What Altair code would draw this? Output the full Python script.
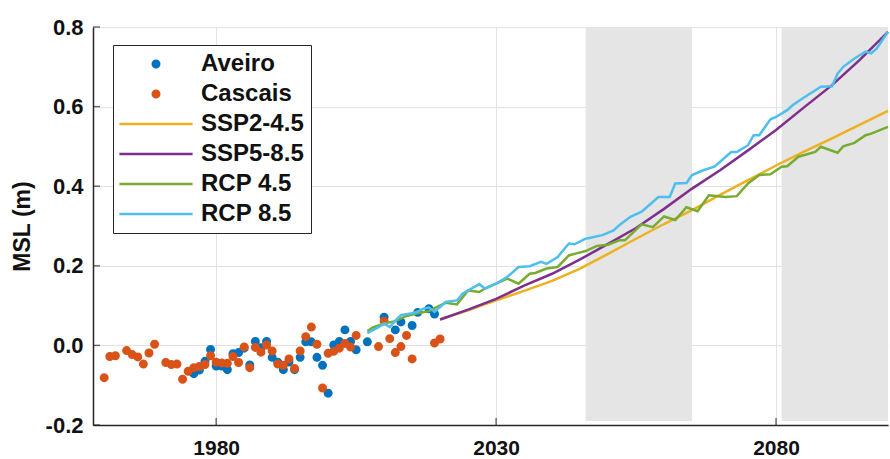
import altair as alt
import pandas as pd

# ---------------- data ----------------
aveiro_years = [1976, 1977, 1978, 1979, 1980, 1981, 1982, 1983, 1984, 1985, 1986, 1987, 1988, 1989,
                1990, 1991, 1992, 1993, 1994, 1995, 1996, 1997, 1998, 1999, 2000, 2001, 2002, 2003,
                2004, 2005, 2007, 2010, 2012, 2013, 2015, 2016, 2018, 2019]
aveiro_msl = [-0.071, -0.062, -0.040, -0.010, -0.052, -0.052, -0.061, -0.021, -0.018, -0.007, -0.049,
              0.010, -0.006, 0.010, -0.030, -0.042, -0.061, -0.042, -0.061, -0.030, 0.009, 0.009,
              -0.030, -0.050, -0.120, 0.001, 0.010, 0.039, 0.010, -0.011, 0.009, 0.071, 0.039, 0.059,
              0.050, 0.083, 0.092, 0.079]

cascais_years = [1960, 1961, 1962, 1964, 1965, 1966, 1967, 1968, 1969, 1971, 1972, 1973, 1974, 1975,
                 1976, 1977, 1978, 1979, 1980, 1981, 1982, 1983, 1984, 1985, 1986, 1987, 1988, 1989,
                 1990, 1991, 1992, 1993, 1994, 1995, 1996, 1997, 1998, 1999, 2000, 2001, 2002, 2003,
                 2004, 2005, 2009, 2010, 2011, 2012, 2013, 2014, 2015, 2019, 2020]
cascais_msl = [-0.081, -0.028, -0.026, -0.013, -0.023, -0.029, -0.047, -0.019, 0.003, -0.043, -0.048,
               -0.047, -0.085, -0.065, -0.056, -0.053, -0.048, -0.026, -0.042, -0.044, -0.045, -0.028,
               -0.043, -0.004, -0.056, -0.005, -0.017, 0.001, -0.014, -0.047, -0.050, -0.034, -0.058,
               -0.014, 0.022, 0.046, 0.003, -0.107, -0.020, -0.015, -0.007, 0.005, -0.004, 0.025,
               -0.003, 0.061, 0.017, -0.018, -0.003, 0.025, -0.034, 0.006, 0.016]

ssp_years = [2020, 2025, 2030, 2035, 2040, 2045, 2050, 2055, 2060, 2065, 2070, 2075, 2080, 2085,
             2090, 2095, 2100]
ssp245 = [0.065, 0.088, 0.113, 0.137, 0.162, 0.193, 0.230, 0.268, 0.305, 0.340, 0.378, 0.415, 0.452,
          0.487, 0.520, 0.555, 0.589]
ssp585 = [0.065, 0.090, 0.117, 0.150, 0.180, 0.216, 0.255, 0.295, 0.343, 0.394, 0.440, 0.490, 0.541,
          0.598, 0.654, 0.718, 0.788]

rcp45_years = [2007, 2008, 2010, 2012, 2014, 2016, 2018, 2019, 2021, 2023, 2025, 2027, 2028, 2032,
               2034, 2036, 2037, 2039, 2041, 2043, 2044, 2046, 2048, 2050, 2052, 2053, 2056, 2058,
               2060, 2062, 2064, 2066, 2068, 2071, 2073, 2075, 2077, 2079, 2081, 2082, 2084, 2087,
               2088, 2091, 2092, 2094, 2096, 2097, 2100]
rcp45 = [0.036, 0.045, 0.055, 0.061, 0.074, 0.081, 0.086, 0.094, 0.107, 0.103, 0.138, 0.134, 0.143,
         0.168, 0.155, 0.180, 0.182, 0.193, 0.197, 0.226, 0.230, 0.237, 0.250, 0.253, 0.264, 0.264,
         0.304, 0.297, 0.324, 0.315, 0.347, 0.337, 0.377, 0.373, 0.375, 0.407, 0.428, 0.430, 0.449,
         0.450, 0.474, 0.486, 0.499, 0.484, 0.500, 0.509, 0.528, 0.532, 0.549]

rcp85_years = [2007, 2009, 2010, 2011, 2012, 2013, 2015, 2016, 2017, 2018, 2019, 2021, 2023, 2024,
               2027, 2028, 2030, 2032, 2034, 2036, 2038, 2039, 2041, 2043, 2044, 2046, 2049, 2051,
               2052, 2054, 2056, 2059, 2061, 2062, 2064, 2065, 2067, 2069, 2072, 2073, 2075, 2076,
               2077, 2079, 2080, 2082, 2083, 2085, 2088, 2090, 2091, 2092, 2094, 2096, 2097, 2098, 2100]
rcp85 = [0.031, 0.046, 0.055, 0.046, 0.062, 0.076, 0.081, 0.085, 0.092, 0.095, 0.084, 0.109, 0.113,
         0.130, 0.154, 0.143, 0.155, 0.172, 0.197, 0.199, 0.210, 0.205, 0.222, 0.256, 0.254, 0.268,
         0.277, 0.289, 0.302, 0.323, 0.336, 0.373, 0.373, 0.407, 0.408, 0.428, 0.440, 0.449, 0.486,
         0.486, 0.503, 0.528, 0.528, 0.568, 0.574, 0.591, 0.604, 0.623, 0.650, 0.651, 0.683, 0.700,
         0.721, 0.738, 0.734, 0.746, 0.788]

shade_start = [2046, 2081]
shade_end = [2065, 2100]

x_ticks = [1980, 2030, 2080]
y_ticks = [-0.2, 0.0, 0.2, 0.4, 0.6, 0.8]
x_domain = [1958, 2100]
y_domain = [-0.2, 0.8]

series_names = ["Aveiro", "Cascais", "SSP2-4.5", "SSP5-8.5", "RCP 4.5", "RCP 8.5"]
series_colors = ["#0072BD", "#D95319", "#EDB120", "#7E2F8E", "#77AC30", "#4DBEEE"]

# ---------------- styling ----------------
FONT = "Liberation Sans"
DARK = "#262626"
LINE_PATH = "M-11.3,0H11.3"
series_shapes = ["circle", "circle", LINE_PATH, LINE_PATH, LINE_PATH, LINE_PATH]

pts = pd.concat([
    pd.DataFrame({"year": aveiro_years, "msl": aveiro_msl, "series": "Aveiro"}),
    pd.DataFrame({"year": cascais_years, "msl": cascais_msl, "series": "Cascais"}),
], ignore_index=True)

shade = pd.DataFrame({"start": shade_start, "end": shade_end})

xscale = alt.Scale(domain=x_domain, nice=False, zero=False)
yscale = alt.Scale(domain=y_domain, nice=False, zero=False)

x_axis = alt.Axis(values=x_ticks, format="d", grid=True, gridColor="#e2e2e2", gridWidth=1,
                  ticks=False, tickSize=0, domainColor=DARK, domainWidth=1.5, labelFont=FONT,
                  labelFontSize=21, labelFontWeight="bold", labelColor="#111111",
                  labelBaseline="alphabetic", labelPadding=29, title=None, labelFlush=False)
y_axis = alt.Axis(values=y_ticks, labelExpr="replace(format(datum.value, '.1f'), '\u2212', '-')",
                  grid=True, gridColor="#e2e2e2", gridWidth=1,
                  ticks=False, tickSize=0, domainColor=DARK, domainWidth=1.5, labelFont=FONT,
                  labelFontSize=22, labelFontWeight="bold", labelColor="#111111", labelPadding=10,
                  title="MSL (m)", titleFont=FONT, titleFontSize=23, titleFontWeight="bold",
                  titleColor="#111111", titleX=-71, titleY=199, titleBaseline="middle",
                  labelFlush=False)

legend = alt.Legend(title=None, orient="none", legendX=20, legendY=18, padding=7,
                    strokeColor=DARK, fillColor="white", labelFont=FONT, labelFontSize=24,
                    labelFontWeight="bold", labelColor="#111111", rowPadding=6, symbolSize=42,
                    symbolStrokeWidth=2.5, symbolOffset=24, labelOffset=33)

base_x = alt.X("year:Q", scale=xscale, axis=x_axis)
base_y = alt.Y("msl:Q", scale=yscale, axis=y_axis)

rects = alt.Chart(shade).mark_rect(color="#e5e5e5").encode(
    x=alt.X("start:Q", scale=xscale, axis=x_axis),
    x2="end:Q",
    y=alt.datum(0.8),
    y2=alt.datum(-0.19),
)

points = alt.Chart(pts).mark_point(size=42, strokeWidth=2.5, opacity=1, fillOpacity=1).encode(
    x=base_x,
    y=base_y,
    fill=alt.Fill("series:N", scale=alt.Scale(domain=series_names, range=series_colors), legend=legend),
    stroke=alt.Stroke("series:N", scale=alt.Scale(domain=series_names, range=series_colors), legend=legend),
    shape=alt.Shape("series:N", scale=alt.Scale(domain=series_names, range=series_shapes), legend=legend),
)

line_sets = [
    (ssp_years, ssp245, series_colors[2]),
    (ssp_years, ssp585, series_colors[3]),
    (rcp45_years, rcp45, series_colors[4]),
    (rcp85_years, rcp85, series_colors[5]),
]
lines = []
for yrs, vals, col in line_sets:
    df = pd.DataFrame({"year": yrs, "msl": vals})
    lines.append(alt.Chart(df).mark_line(color=col, strokeWidth=2.5).encode(x=base_x, y=base_y))

xt = alt.Chart(pd.DataFrame({"year": x_ticks})).mark_tick(
    orient="vertical", size=7, thickness=1.4, color=DARK, yOffset=-3.5
).encode(x=alt.X("year:Q", scale=xscale, axis=x_axis), y=alt.datum(-0.2))

yt = alt.Chart(pd.DataFrame({"msl": y_ticks})).mark_tick(
    orient="horizontal", size=7, thickness=1.4, color=DARK, xOffset=3.5
).encode(y=alt.Y("msl:Q", scale=yscale, axis=y_axis), x=alt.datum(1958))

chart = alt.layer(rects, points, *lines, xt, yt).properties(
    width=795, height=398,
    autosize=alt.AutoSizeParams(type="none"),
    padding={"left": 93, "top": 27, "right": 2, "bottom": 34},
    background="white",
).configure_view(stroke=None)

chart.save("out.html", embed_options={"renderer": "svg", "actions": False})
